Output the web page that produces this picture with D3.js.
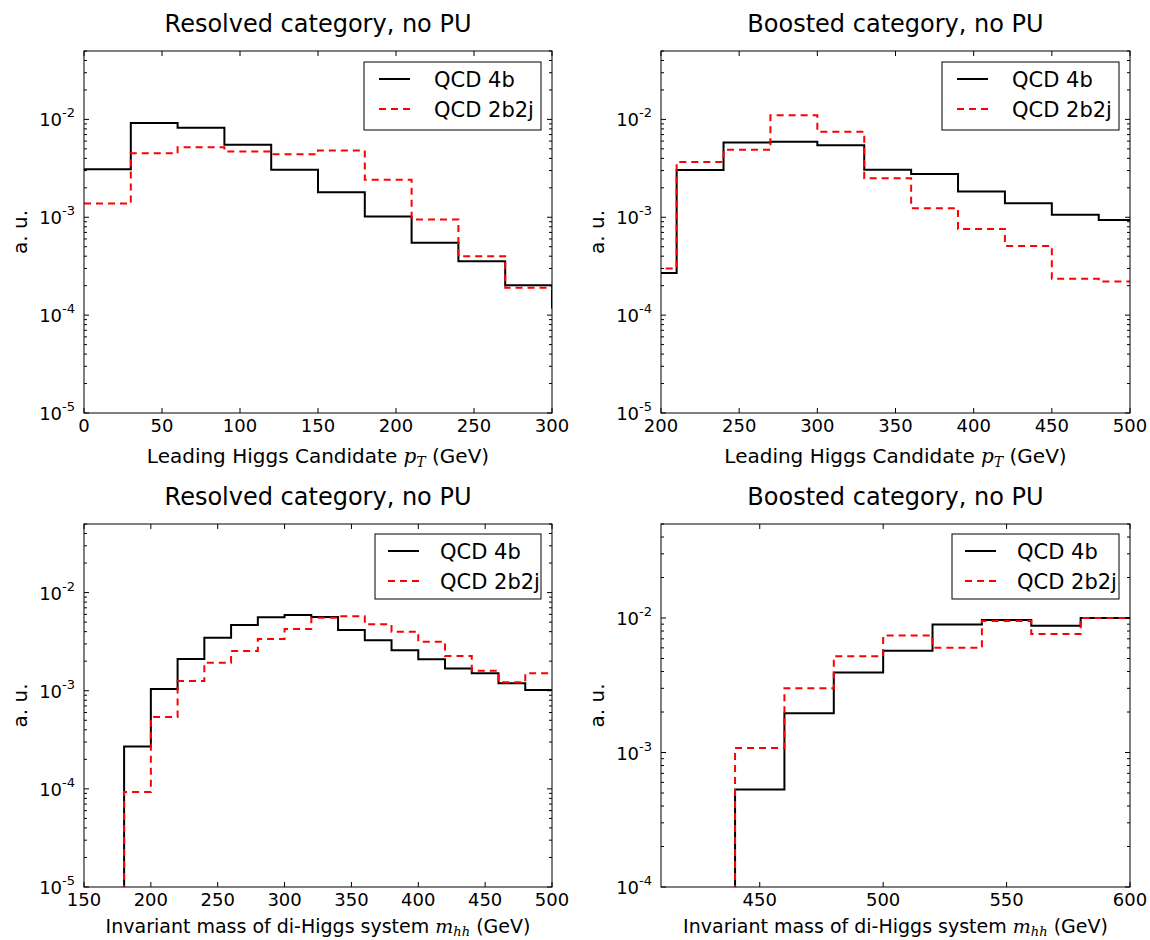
<!DOCTYPE html>
<html>
<head>
<meta charset="utf-8">
<script src="https://cdn.jsdelivr.net/npm/d3@7"></script>
<style>
  body { margin: 0; background: #fff; }
  svg { display: block; font-family: "DejaVu Sans", sans-serif; }
</style>
</head>
<body>
<svg id="chart" width="1150" height="940"></svg>
<script>
// ---- data (a.u.) ----
const seriesNames = ["QCD 4b", "QCD 2b2j"];

// leading Higgs pT, resolved
const ptResEdges = [0, 30, 60, 90, 120, 150, 180, 210, 240, 270, 300, 330];
const ptRes4b    = [3.1e-3, 9.2e-3, 8.2e-3, 5.5e-3, 3.06e-3, 1.8e-3, 1.02e-3, 5.5e-4, 3.55e-4, 2.02e-4, 1.2e-4];
const ptRes2b2j  = [1.38e-3, 4.5e-3, 5.2e-3, 4.7e-3, 4.4e-3, 4.8e-3, 2.42e-3, 9.5e-4, 4.0e-4, 1.9e-4, 1.85e-4];
const ptResTicks = [0, 50, 100, 150, 200, 250, 300];

// leading Higgs pT, boosted
const ptBstEdges = [180, 210, 240, 270, 300, 330, 360, 390, 420, 450, 480, 510];
const ptBst4b    = [2.7e-4, 3.04e-3, 5.8e-3, 5.9e-3, 5.45e-3, 3.06e-3, 2.77e-3, 1.83e-3, 1.39e-3, 1.06e-3, 9.4e-4];
const ptBst2b2j  = [3.0e-4, 3.67e-3, 4.9e-3, 1.1e-2, 7.5e-3, 2.5e-3, 1.24e-3, 7.6e-4, 5.1e-4, 2.35e-4, 2.2e-4];
const ptBstTicks = [200, 250, 300, 350, 400, 450, 500];

// di-Higgs invariant mass, resolved
const mhhResEdges = [180, 200, 220, 240, 260, 280, 300, 320, 340, 360, 380, 400, 420, 440, 460, 480, 500];
const mhhRes4b    = [2.7e-4, 1.04e-3, 2.1e-3, 3.47e-3, 4.68e-3, 5.6e-3, 5.9e-3, 5.65e-3, 4.16e-3, 3.26e-3, 2.58e-3, 2.09e-3, 1.68e-3, 1.51e-3, 1.19e-3, 1.02e-3];
const mhhRes2b2j  = [9.3e-5, 5.4e-4, 1.26e-3, 1.93e-3, 2.54e-3, 3.37e-3, 4.26e-3, 5.55e-3, 5.75e-3, 4.75e-3, 4.0e-3, 3.16e-3, 2.26e-3, 1.6e-3, 1.22e-3, 1.51e-3];
const mhhResTicks = [150, 200, 250, 300, 350, 400, 450, 500];

// di-Higgs invariant mass, boosted
const mhhBstEdges = [440, 460, 480, 500, 520, 540, 560, 580, 600];
const mhhBst4b    = [5.3e-4, 1.96e-3, 3.94e-3, 5.7e-3, 8.95e-3, 9.65e-3, 8.75e-3, 1.0e-2];
const mhhBst2b2j  = [1.08e-3, 3.0e-3, 5.2e-3, 7.4e-3, 6.0e-3, 9.5e-3, 7.6e-3, 1.0e-2];
const mhhBstTicks = [450, 500, 550, 600];

const titles = ["Resolved category, no PU", "Boosted category, no PU"];

// ---- layout ----
const panels = [
  { box: [84, 51, 468, 362], title: titles[0], xl: "pt",  xDomain: [0, 300],   yDomain: [1e-5, 0.05],
    xTicks: ptResTicks, edges: ptResEdges, a: ptRes4b, b: ptRes2b2j, legW: 177, legH: 68, legGap: 24 },
  { box: [661, 51, 469, 362], title: titles[1], xl: "pt", xDomain: [200, 500], yDomain: [1e-5, 0.05],
    xTicks: ptBstTicks, edges: ptBstEdges, a: ptBst4b, b: ptBst2b2j, legW: 177, legH: 68, legGap: 24 },
  { box: [84, 524, 468, 363], title: titles[0], xl: "mhh", xDomain: [150, 500], yDomain: [1e-5, 0.05],
    xTicks: mhhResTicks, edges: mhhResEdges, a: mhhRes4b, b: mhhRes2b2j, legW: 166, legH: 65, legGap: 21 },
  { box: [661, 524, 469, 363], title: titles[1], xl: "mhh", xDomain: [410, 600], yDomain: [1e-4, 0.05],
    xTicks: mhhBstTicks, edges: mhhBstEdges, a: mhhBst4b, b: mhhBst2b2j, legW: 167, legH: 65, legGap: 21 }
];

const styles = [
  { color: "#000", dash: null },
  { color: "#ff0000", dash: "7,5" }
];

const svg = d3.select("#chart");
svg.append("rect").attr("width", 1150).attr("height", 940).attr("fill", "#fff");

panels.forEach((p, i) => {
  const [bx, by, bw, bh] = p.box;
  const x = d3.scaleLinear().domain(p.xDomain).range([bx, bx + bw]);
  const y = d3.scaleLog().domain(p.yDomain).range([by + bh, by]);
  const g = svg.append("g");

  const clipId = "clip" + i;
  svg.append("clipPath").attr("id", clipId)
    .append("rect").attr("x", bx).attr("y", by).attr("width", bw).attr("height", bh);

  // step histograms
  [p.a, p.b].forEach((vals, k) => {
    const e = p.edges;
    const path = d3.path();
    if (e[0] > p.xDomain[0]) {
      path.moveTo(x(e[0]), by + bh + 5);
      path.lineTo(x(e[0]), y(vals[0]));
    } else {
      path.moveTo(x(e[0]), y(vals[0]));
    }
    vals.forEach((v, j) => {
      if (j > 0) path.lineTo(x(e[j]), y(v));
      path.lineTo(x(e[j + 1]), y(v));
    });
    g.append("path")
      .attr("d", path.toString())
      .attr("clip-path", `url(#${clipId})`)
      .attr("fill", "none")
      .attr("stroke", styles[k].color)
      .attr("stroke-width", 2)
      .attr("stroke-dasharray", styles[k].dash);
  });

  // frame
  g.append("rect")
    .attr("x", bx).attr("y", by).attr("width", bw).attr("height", bh)
    .attr("fill", "none").attr("stroke", "#000").attr("stroke-width", 1);

  // x ticks (inside, bottom & top)
  p.xTicks.forEach(t => {
    const xx = x(t);
    g.append("line").attr("x1", xx).attr("x2", xx).attr("y1", by + bh).attr("y2", by + bh - 5)
      .attr("stroke", "#000");
    g.append("line").attr("x1", xx).attr("x2", xx).attr("y1", by).attr("y2", by + 5)
      .attr("stroke", "#000");
    g.append("text").attr("x", xx).attr("y", by + bh + 19)
      .attr("text-anchor", "middle").attr("font-size", 18).text(t);
  });

  // y ticks (log, major + minor, both sides)
  const lo = Math.floor(Math.log10(p.yDomain[0]));
  const hi = Math.ceil(Math.log10(p.yDomain[1]));
  for (let k = lo; k <= hi; k++) {
    for (let m = 1; m <= 9; m++) {
      const v = m * Math.pow(10, k);
      if (v < p.yDomain[0] * 0.999 || v > p.yDomain[1] * 1.001) continue;
      const yy = y(v);
      const len = m === 1 ? 5 : 3;
      g.append("line").attr("x1", bx).attr("x2", bx + len).attr("y1", yy).attr("y2", yy).attr("stroke", "#000");
      g.append("line").attr("x1", bx + bw).attr("x2", bx + bw - len).attr("y1", yy).attr("y2", yy).attr("stroke", "#000");
      if (m === 1) {
        const tx = g.append("text").attr("x", bx - 9).attr("y", yy + 7)
          .attr("text-anchor", "end").attr("font-size", 18);
        tx.append("tspan").text("10");
        tx.append("tspan").attr("dy", -9).attr("font-size", 13).text("-" + (-k));
      }
    }
  }

  // title
  svg.append("text").attr("x", bx + bw / 2).attr("y", by - 19)
    .attr("text-anchor", "middle").attr("font-size", 24).text(p.title);

  // x label
  const top = i < 2;
  const xlab = svg.append("text").attr("x", bx + bw / 2).attr("y", by + bh + (top ? 50 : 46))
    .attr("text-anchor", "middle").attr("font-size", top ? 20 : 19);
  if (p.xl === "pt") {
    xlab.append("tspan").text("Leading Higgs Candidate ");
    xlab.append("tspan").attr("font-family", "DejaVu Serif").attr("font-style", "italic").text("p");
    xlab.append("tspan").attr("font-family", "DejaVu Serif").attr("font-style", "italic")
      .attr("font-size", 14).attr("dy", 4).text("T");
    xlab.append("tspan").attr("dy", -4).text(" (GeV)");
  } else {
    xlab.append("tspan").text("Invariant mass of di-Higgs system ");
    xlab.append("tspan").attr("font-family", "DejaVu Serif").attr("font-style", "italic").text("m");
    xlab.append("tspan").attr("font-family", "DejaVu Serif").attr("font-style", "italic")
      .attr("font-size", 13).attr("dy", 3).text("hh");
    xlab.append("tspan").attr("dy", -3).text(" (GeV)");
  }

  // y label
  svg.append("text")
    .attr("transform", `translate(${bx - 57},${by + bh / 2}) rotate(-90)`)
    .attr("text-anchor", "middle").attr("font-size", 20).text("a. u.");

  // legend
  const lx = bx + bw - 11 - p.legW;
  const ly = by + (top ? 11 : 10);
  const leg = svg.append("g");
  leg.append("rect").attr("x", lx).attr("y", ly).attr("width", p.legW).attr("height", p.legH)
    .attr("fill", "#fff").attr("stroke", "#000").attr("stroke-width", 1);
  seriesNames.forEach((name, k) => {
    const ry = ly + 17 + k * 30;
    const l0 = lx + (top ? 15 : 13);
    leg.append("line").attr("x1", l0).attr("x2", l0 + 31).attr("y1", ry).attr("y2", ry)
      .attr("stroke", styles[k].color).attr("stroke-width", 2)
      .attr("stroke-dasharray", styles[k].dash);
    leg.append("text").attr("x", l0 + 31 + p.legGap).attr("y", ry + 8)
      .attr("font-size", 21).text(name);
  });
});
</script>
</body>
</html>
